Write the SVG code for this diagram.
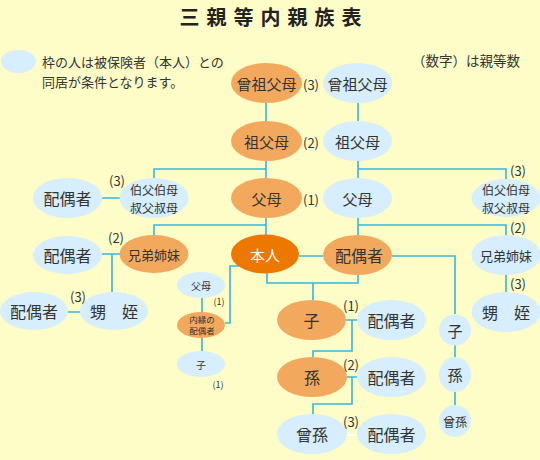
<svg xmlns="http://www.w3.org/2000/svg" width="540" height="460" viewBox="0 0 540 460">
<style>
text{font-family:"Noto Sans CJK JP","Noto Sans",sans-serif;fill:#333;text-anchor:middle;dominant-baseline:central}
.o{fill:#F2A95E}
.b{fill:#D6EEFD}
.me{fill:#EC7800}
.ln{fill:none;stroke:#35B6DE;stroke-width:1.6}
.wl{fill:none;stroke:#FFFFFF;stroke-width:1.6}
.n{font-size:13px}
.f15{font-size:15px}
.f16{font-size:16px}
.f13{font-size:13px}
.f12{font-size:12px}
.s{font-size:10px}
.xs{font-size:9px}
.xxs{font-size:8.5px}
</style>
<rect width="540" height="460" fill="#FEFDC8"/>
<text x="274" y="16" style="font-size:20px;font-weight:bold;letter-spacing:7px;fill:#222">三親等内親族表</text>
<g id="legend">
<ellipse class="b" cx="18.5" cy="61.5" rx="17.5" ry="11.5"/>
<text x="42" y="61" style="font-size:13px;text-anchor:start">枠の人は被保険者（本人）との</text>
<text x="42" y="81" style="font-size:13px;text-anchor:start">同居が条件となります。</text>
<text x="520" y="60" style="font-size:13.5px;text-anchor:end">（数字）は親等数</text>
</g>
<g id="connectors">
<path class="ln" d="M266,103V121M266,161V178M266,218V235M358,103V121M358,161V178M358,218V235"/>
<path class="ln" d="M266,169H154V178M358,169H506V180M266,225H154V235M358,225H506V235"/>
<path class="ln" d="M102,198H120M102,254H120M112,254V292M68,312H80M506,274V292"/>
<path class="ln" d="M299,256H323M267,273V283H358V275M313,283V300M392,256H455V314M455,345V357M455,392V405"/>
<path class="ln" d="M346,320H357M352,320V351H313V357M347,377H357M352,377V404H313V414"/>
<path class="wl" d="M347,435H357"/>
<path class="ln" d="M202,298V312M202,338V351M225,323H230V266H239"/>
</g>
<g id="n-sosofubo-o"><ellipse class="o" cx="266.5" cy="83" rx="35.5" ry="20"/><text class="f15" x="266.5" y="83">曾祖父母</text></g>
<text class="n" x="311" y="84">(3)</text>
<g id="n-sosofubo-b"><ellipse class="b" cx="357.5" cy="83" rx="34.5" ry="20"/><text class="f15" x="357.5" y="83">曾祖父母</text></g>
<g id="n-sofubo-o"><ellipse class="o" cx="266.5" cy="141" rx="35.5" ry="20"/><text class="f15" x="266.5" y="141">祖父母</text></g>
<text class="n" x="311" y="142">(2)</text>
<g id="n-sofubo-b"><ellipse class="b" cx="357.5" cy="141" rx="34.5" ry="20"/><text class="f15" x="357.5" y="141">祖父母</text></g>
<g id="n-fubo-o"><ellipse class="o" cx="266.5" cy="198" rx="35.5" ry="20"/><text class="f15" x="266.5" y="198">父母</text></g>
<text class="n" x="311" y="199">(1)</text>
<g id="n-fubo-b"><ellipse class="b" cx="357.5" cy="198" rx="34.5" ry="20"/><text class="f15" x="357.5" y="198">父母</text></g>
<g id="n-oji-l"><ellipse class="b" cx="154" cy="198" rx="34.5" ry="20"/><text class="f12" x="154" y="189">伯父伯母</text><text class="f12" x="154" y="207">叔父叔母</text></g>
<text class="n" x="117" y="180">(3)</text>
<g id="n-haigu-oji"><ellipse class="b" cx="67.5" cy="198" rx="34.5" ry="20"/><text class="f16" x="67.5" y="198">配偶者</text></g>
<g id="n-oji-r"><ellipse class="b" cx="506" cy="198" rx="34.5" ry="19"/><text class="f12" x="506" y="189">伯父伯母</text><text class="f12" x="506" y="207">叔父叔母</text></g>
<text class="n" x="518" y="170">(3)</text>
<g id="n-kyodai-l"><ellipse class="o" cx="154" cy="254" rx="34.5" ry="19"/><text class="f13" x="154" y="254">兄弟姉妹</text></g>
<text class="n" x="116" y="237">(2)</text>
<g id="n-haigu-kyodai"><ellipse class="b" cx="67.5" cy="255" rx="34.5" ry="19"/><text class="f16" x="67.5" y="255">配偶者</text></g>
<g id="n-oimei-l"><ellipse class="b" cx="114" cy="311" rx="34" ry="19"/><text class="f16" x="114" y="311">甥　姪</text></g>
<text class="n" x="78" y="296">(3)</text>
<g id="n-haigu-oimei"><ellipse class="b" cx="34" cy="311" rx="34" ry="19"/><text class="f16" x="34" y="311">配偶者</text></g>
<g id="n-kyodai-r"><ellipse class="b" cx="506" cy="255" rx="34.5" ry="20"/><text class="f13" x="506" y="255">兄弟姉妹</text></g>
<text class="n" x="518" y="227">(2)</text>
<g id="n-oimei-r"><ellipse class="b" cx="506" cy="312" rx="34.5" ry="20"/><text class="f16" x="506" y="312">甥　姪</text></g>
<text class="n" x="518" y="283">(3)</text>
<g id="n-honnin"><ellipse class="me" cx="265" cy="254" rx="34" ry="19.5"/><text class="f15" x="265" y="254" style="fill:#fff">本人</text></g>
<g id="n-haigusha"><ellipse class="o" cx="357.5" cy="255" rx="34.5" ry="20"/><text class="f16" x="359" y="255">配偶者</text></g>
<g id="n-ko"><ellipse class="o" cx="311.5" cy="320" rx="34.5" ry="20"/><text class="f16" x="311.5" y="320">子</text></g>
<text class="n" x="351" y="305">(1)</text>
<g id="n-haigu-ko"><ellipse class="b" cx="391.5" cy="320" rx="34.5" ry="20"/><text class="f16" x="391.5" y="320">配偶者</text></g>
<g id="n-mago"><ellipse class="o" cx="312" cy="377" rx="35" ry="20"/><text class="f16" x="312" y="377">孫</text></g>
<text class="n" x="351" y="364">(2)</text>
<g id="n-haigu-mago"><ellipse class="b" cx="391.5" cy="377" rx="34.5" ry="20"/><text class="f16" x="391.5" y="377">配偶者</text></g>
<g id="n-himago"><ellipse class="b" cx="312" cy="434" rx="35" ry="20"/><text class="f16" x="312" y="434">曾孫</text></g>
<text class="n" x="351" y="421">(3)</text>
<g id="n-haigu-himago"><ellipse class="b" cx="391.5" cy="434" rx="34.5" ry="20"/><text class="f16" x="391.5" y="434">配偶者</text></g>
<g id="n-ko-r"><ellipse class="b" cx="455" cy="330" rx="16" ry="15.5"/><text class="f15" x="455" y="330">子</text></g>
<g id="n-mago-r"><ellipse class="b" cx="455" cy="374.5" rx="16" ry="17.5"/><text class="f15" x="455" y="374.5">孫</text></g>
<g id="n-himago-r"><ellipse class="b" cx="455" cy="421" rx="16" ry="16"/><text x="455" y="421" style="font-size:12px">曾孫</text></g>
<g id="n-naien-fubo"><ellipse class="b" cx="201" cy="285" rx="24" ry="13"/><text class="s" x="201" y="285">父母</text></g>
<text class="xs" x="219" y="301">(1)</text>
<g id="n-naien"><ellipse class="o" cx="201" cy="325" rx="24" ry="13"/><text class="xxs" x="202" y="318.5">内縁の</text><text class="xxs" x="202" y="329.5">配偶者</text></g>
<g id="n-naien-ko"><ellipse class="b" cx="201" cy="364" rx="24" ry="13"/><text class="s" x="201" y="364">子</text></g>
<text class="xs" x="218" y="384">(1)</text>
</svg>
